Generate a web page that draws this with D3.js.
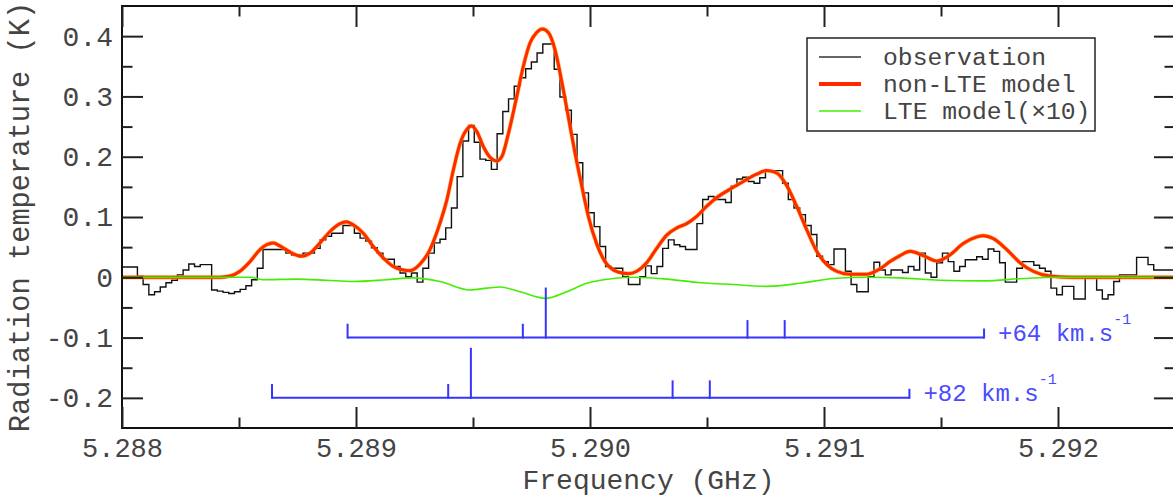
<!DOCTYPE html>
<html>
<head>
<meta charset="utf-8">
<script src="https://cdn.jsdelivr.net/npm/d3@7"></script>
<style>
  html, body { margin: 0; padding: 0; background: #fff; }
  svg { display: block; }
  text { font-family: "Liberation Mono", "DejaVu Sans Mono", monospace; }
</style>
</head>
<body>
<svg id="chart" width="1173" height="498"></svg>
<script>
// ---- spectrum channels (GHz) ----
const chanStart = 5.2879927;
const chanWidth = 0.0000244;
const obsTemp = [
  0.017, 0.017, 0.017, 0.002, -0.012, -0.029, -0.024, -0.016, -0.009, -0.005,
  0.004, 0.012, 0.022, 0.018, 0.021, 0.021, -0.021, -0.023, -0.025, -0.027,
  -0.024, -0.020, -0.014, -0.004, 0.015, 0.046, 0.046, 0.046, 0.046, 0.040,
  0.037, 0.037, 0.040, 0.040, 0.048, 0.062, 0.068, 0.073, 0.073, 0.086,
  0.086, 0.073, 0.065, 0.060, 0.049, 0.040, 0.030, 0.030, 0.018, 0.007,
  0.001, 0.007, -0.008, 0.015, 0.040, 0.057, 0.063, 0.082, 0.115, 0.167,
  0.226, 0.252, 0.224, 0.196, 0.194, 0.179, 0.238, 0.275, 0.296, 0.317,
  0.331, 0.346, 0.357, 0.372, 0.387, 0.387, 0.345, 0.299, 0.277, 0.237,
  0.190, 0.140, 0.107, 0.084, 0.051, 0.018, 0.015, 0.015, 0.001, -0.012,
  -0.012, 0.001, 0.019, 0.006, 0.018, 0.048, 0.062, 0.054, 0.051, 0.046,
  0.046, 0.089, 0.129, 0.134, 0.129, 0.129, 0.124, 0.151, 0.163, 0.166,
  0.159, 0.156, 0.165, 0.177, 0.177, 0.177, 0.156, 0.129, 0.115, 0.104,
  0.086, 0.071, 0.035, 0.026, 0.021, 0.047, 0.047, 0.010, -0.012, -0.024,
  -0.024, 0.001, 0.025, 0.012, 0.004, 0.012, 0.012, 0.008, 0.018, 0.012,
  0.040, 0.007, 0.000, 0.024, 0.040, 0.026, 0.010, 0.018, 0.029, 0.029,
  0.034, 0.030, 0.047, 0.043, 0.024, -0.008, -0.008, 0.015, 0.026, 0.026,
  0.020, 0.015, 0.010, -0.018, -0.029, -0.015, -0.015, -0.036, -0.036, -0.001,
  -0.001, -0.021, -0.036, -0.029, -0.007, 0.004, 0.004, 0.004, 0.033, 0.033,
  0.021, 0.012, 0.012, 0.012, 0.012
];

// ---- non-LTE model ----
const nlteFreq = [
  5.288000, 5.288248, 5.288419, 5.288462, 5.288504, 5.288547, 5.288590, 5.288618,
  5.288647, 5.288675, 5.288704, 5.288732, 5.288768, 5.288803, 5.288846, 5.288889,
  5.288932, 5.288960, 5.288988, 5.289031, 5.289074, 5.289117, 5.289159, 5.289202,
  5.289231, 5.289274, 5.289316, 5.289359, 5.289388, 5.289416, 5.289444, 5.289473,
  5.289494, 5.289516, 5.289544, 5.289573, 5.289601, 5.289623, 5.289651, 5.289687,
  5.289715, 5.289744, 5.289772, 5.289796, 5.289822, 5.289850, 5.289879, 5.289907,
  5.289936, 5.289965, 5.289993, 5.290029, 5.290064, 5.290100, 5.290128, 5.290164,
  5.290200, 5.290242, 5.290285, 5.290328, 5.290371, 5.290413, 5.290456, 5.290499,
  5.290541, 5.290598, 5.290655, 5.290712, 5.290755, 5.290798, 5.290841, 5.290883,
  5.290926, 5.290969, 5.291012, 5.291054, 5.291111, 5.291183, 5.291239, 5.291282,
  5.291325, 5.291368, 5.291424, 5.291482, 5.291538, 5.291595, 5.291653, 5.291681,
  5.291724, 5.291781, 5.291838, 5.291894, 5.291966, 5.292065, 5.292500
];
const nlteTemp = [
  0.000, 0.000, 0.000, 0.002, 0.010, 0.026, 0.046, 0.054,
  0.057, 0.052, 0.045, 0.039, 0.035, 0.040, 0.057, 0.076,
  0.089, 0.092, 0.087, 0.073, 0.051, 0.032, 0.018, 0.012,
  0.011, 0.022, 0.046, 0.090, 0.128, 0.178, 0.221, 0.245,
  0.251, 0.242, 0.217, 0.199, 0.193, 0.200, 0.238, 0.300,
  0.350, 0.389, 0.406, 0.412, 0.406, 0.378, 0.325, 0.267,
  0.206, 0.151, 0.101, 0.055, 0.026, 0.012, 0.008, 0.006,
  0.010, 0.024, 0.048, 0.070, 0.082, 0.089, 0.101, 0.118,
  0.132, 0.146, 0.159, 0.171, 0.177, 0.173, 0.152, 0.118,
  0.079, 0.043, 0.021, 0.010, 0.005, 0.005, 0.014, 0.026,
  0.036, 0.043, 0.036, 0.027, 0.037, 0.056, 0.067, 0.069,
  0.064, 0.046, 0.024, 0.010, 0.002, 0.000, 0.000
];

// ---- LTE model, scaled by 10 ----
const lteFreq = [
  5.288000, 5.288547, 5.288604, 5.288747, 5.288875, 5.288988, 5.289131, 5.289245,
  5.289359, 5.289487, 5.289559, 5.289615, 5.289701, 5.289811, 5.289900, 5.289986,
  5.290100, 5.290184, 5.290328, 5.290470, 5.290611, 5.290755, 5.290897, 5.291040,
  5.291183, 5.291325, 5.291496, 5.291681, 5.291852, 5.291994, 5.292500
];
const lteTemp = [
  0.000, 0.000, -0.004, -0.003, -0.005, -0.007, -0.004, -0.001,
  -0.007, -0.021, -0.018, -0.016, -0.024, -0.035, -0.024, -0.010,
  -0.002, 0.000, -0.003, -0.009, -0.012, -0.015, -0.010, -0.002,
  0.000, -0.001, -0.005, -0.006, -0.002, 0.000, 0.000
];

// ---- hyperfine components at two velocities ----
const compFreq64 = [5.288964, 5.289713, 5.289811, 5.290673, 5.290832, 5.291684];
const compFreq82 = [5.288641, 5.289394, 5.289491, 5.290353, 5.290512, 5.291365];
const compStrength = [0.023, 0.023, 0.083, 0.029, 0.029, 0.015];
const compBase = [-0.1, -0.2];
const compLabels = ["+64 km.s", "+82 km.s"];

// ---- axes ----
const xTicks = [5.288, 5.289, 5.290, 5.291, 5.292];
const xTickLabels = ["5.288", "5.289", "5.290", "5.291", "5.292"];
const xMinorTicks = [5.2885, 5.2895, 5.2905, 5.2915, 5.2925];
const yTicks = [-0.2, -0.1, 0, 0.1, 0.2, 0.3, 0.4];
const yMinorTicks = [-0.15, -0.05, 0.05, 0.15, 0.25, 0.35];
const legendLabels = ["observation", "non-LTE model", "LTE model(\u00d710)"];

const box = { left: 122, top: 6, right: 1175, bottom: 428 };
const textColor = "#444";

const svg = d3.select("#chart");
const x = d3.scaleLinear().domain([5.288, 5.2925]).range([box.left, box.right]);
const y = d3.scaleLinear().domain([-0.25, 0.45]).range([box.bottom, box.top]);

svg.append("defs").append("clipPath").attr("id", "plotclip")
  .append("rect").attr("x", box.left).attr("y", box.top)
  .attr("width", box.right - box.left).attr("height", box.bottom - box.top);

const plot = svg.append("g").attr("clip-path", "url(#plotclip)");

// observation histogram
const obsPts = obsTemp.map((v, i) => [chanStart + i * chanWidth, v]);
obsPts.push([chanStart + obsTemp.length * chanWidth, obsTemp[obsTemp.length - 1]]);
plot.append("path")
  .attr("d", d3.line().x(d => x(d[0])).y(d => y(d[1])).curve(d3.curveStepAfter)(obsPts))
  .attr("fill", "none").attr("stroke", "#111").attr("stroke-width", 1.4);

// non-LTE model
const smooth = d3.line().x(d => x(d[0])).y(d => y(d[1])).curve(d3.curveMonotoneX);
const nltePts = nlteFreq.map((f, i) => [f, nlteTemp[i]]);
plot.append("path").attr("d", smooth(nltePts))
  .attr("fill", "none").attr("stroke", "#ffa000").attr("stroke-width", 4.2).attr("stroke-opacity", 0.7);
plot.append("path").attr("d", smooth(nltePts))
  .attr("fill", "none").attr("stroke", "#ff2a00").attr("stroke-width", 3);

// LTE model
const ltePts = lteFreq.map((f, i) => [f, lteTemp[i]]);
plot.append("path").attr("d", smooth(ltePts))
  .attr("fill", "none").attr("stroke", "#44ee00").attr("stroke-width", 1.6);

// component markers
const blue = "#3535ff";
[compFreq64, compFreq82].forEach((freqs, r) => {
  const base = compBase[r];
  const g = svg.append("g");
  g.append("line")
    .attr("x1", x(freqs[0])).attr("x2", x(freqs[freqs.length - 1]))
    .attr("y1", y(base)).attr("y2", y(base))
    .attr("stroke", blue).attr("stroke-width", 2);
  g.selectAll("line.comp").data(freqs).join("line").attr("class", "comp")
    .attr("x1", d => x(d)).attr("x2", d => x(d))
    .attr("y1", y(base) + 1).attr("y2", (d, i) => y(base + compStrength[i]))
    .attr("stroke", blue).attr("stroke-width", 2);
  const t = g.append("text")
    .attr("x", x(freqs[freqs.length - 1]) + 14).attr("y", y(base) + 3)
    .attr("fill", "#4a4aff").attr("font-size", 24);
  t.append("tspan").text(compLabels[r]);
  t.append("tspan").attr("dy", -17).attr("font-size", 15).text("-1");
});

// frame
svg.append("rect")
  .attr("x", box.left).attr("y", box.top)
  .attr("width", box.right - box.left).attr("height", box.bottom - box.top)
  .attr("fill", "none").attr("stroke", "#111").attr("stroke-width", 2);

function styleAxis(g) {
  g.select(".domain").remove();
  g.selectAll(".tick line").attr("stroke", "#222").attr("stroke-width", 2);
  g.selectAll(".tick text").attr("fill", textColor).attr("font-size", 28)
    .attr("font-family", "'Liberation Mono', 'DejaVu Sans Mono', monospace");
}

const major = 21, minor = 10.5;
const xLabelAxis = svg.append("g").attr("transform", `translate(0,${box.bottom})`)
  .call(d3.axisBottom(x).tickValues(xTicks).tickSize(-major).tickPadding(10)
    .tickFormat((d, i) => xTickLabels[i])).call(styleAxis);
xLabelAxis.selectAll(".tick text").attr("font-size", 27);
svg.append("g").attr("transform", `translate(0,${box.bottom})`)
  .call(d3.axisBottom(x).tickValues(xMinorTicks).tickSize(-minor).tickFormat("")).call(styleAxis);
svg.append("g").attr("transform", `translate(0,${box.top})`)
  .call(d3.axisTop(x).tickValues(xTicks).tickSize(-major).tickFormat("")).call(styleAxis);
svg.append("g").attr("transform", `translate(0,${box.top})`)
  .call(d3.axisTop(x).tickValues(xMinorTicks).tickSize(-minor).tickFormat("")).call(styleAxis);

svg.append("g").attr("transform", `translate(${box.left},0)`)
  .call(d3.axisLeft(y).tickValues(yTicks).tickSize(-major).tickPadding(9)
    .tickFormat(d => d === 0 ? "0" : d.toFixed(1))).call(styleAxis);
svg.append("g").attr("transform", `translate(${box.left},0)`)
  .call(d3.axisLeft(y).tickValues(yMinorTicks).tickSize(-minor).tickFormat("")).call(styleAxis);
svg.append("g").attr("transform", `translate(${box.right},0)`)
  .call(d3.axisRight(y).tickValues(yTicks).tickSize(-major).tickFormat("")).call(styleAxis);
svg.append("g").attr("transform", `translate(${box.right},0)`)
  .call(d3.axisRight(y).tickValues(yMinorTicks).tickSize(-minor).tickFormat("")).call(styleAxis);

// axis titles
svg.append("text")
  .attr("x", (box.left + box.right) / 2).attr("y", 489)
  .attr("text-anchor", "middle").attr("font-size", 28).attr("fill", textColor)
  .text("Frequency (GHz)");
svg.append("text")
  .attr("transform", `translate(28.5,${(box.top + box.bottom) / 2}) rotate(-90)`)
  .attr("text-anchor", "middle").attr("font-size", 28.7).attr("fill", textColor)
  .text("Radiation temperature (K)");

// legend
const lg = svg.append("g");
lg.append("rect").attr("x", 807).attr("y", 38).attr("width", 288).attr("height", 93)
  .attr("fill", "#fff").attr("stroke", "#222").attr("stroke-width", 1.5);
const legendStyles = [
  { stroke: "#333", width: 1.5 },
  { stroke: "#ff2a00", width: 4 },
  { stroke: "#44ee00", width: 1.6 }
];
legendLabels.forEach((lab, i) => {
  const cy = 57 + i * 27;
  lg.append("line").attr("x1", 819).attr("x2", 861).attr("y1", cy).attr("y2", cy)
    .attr("stroke", legendStyles[i].stroke).attr("stroke-width", legendStyles[i].width);
  lg.append("text").attr("x", 883).attr("y", cy + 7.5)
    .attr("font-size", 24.7).attr("fill", textColor).text(lab);
});
</script>
</body>
</html>
